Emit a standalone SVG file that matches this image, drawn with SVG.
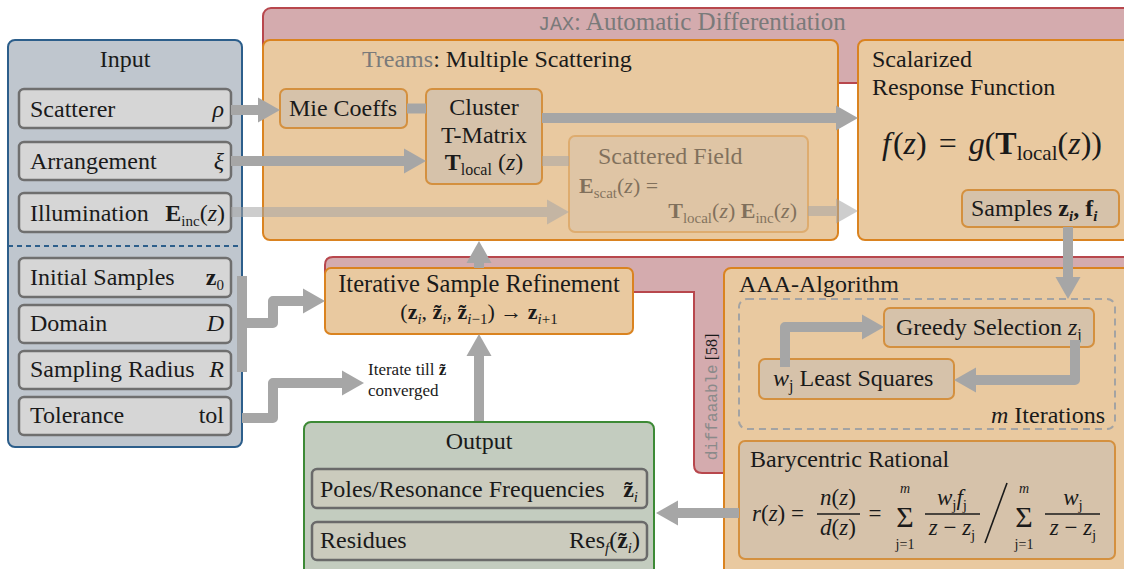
<svg xmlns="http://www.w3.org/2000/svg" width="1124" height="569" viewBox="0 0 1124 569" font-family="'Liberation Serif', 'Times New Roman', 'DejaVu Serif', serif">
<defs>
<marker id="ah" markerUnits="userSpaceOnUse" markerWidth="24" markerHeight="26" refX="0" refY="12.5" orient="auto" overflow="visible">
<path d="M0,0 L22,12.5 L0,25 Z" fill="#a6a6a6"/>
</marker>
<style>
text{font-family:'Liberation Serif','Times New Roman','DejaVu Serif',serif;fill:#1a1a1a;}
.t{font-size:24px}
.it{font-style:italic}
.b{font-weight:bold}
.mono{font-family:'Liberation Mono','DejaVu Sans Mono',monospace}
.gray{fill:#7a7a7a}
.jax{fill:#d4abae;stroke:#b8474d;stroke-width:2}
.orange{fill:#e9c9a0;stroke:#da8320;stroke-width:2}
.tan{fill:#d6c2aa;stroke:#d4903f;stroke-width:2}
.item{fill:#d6d6d6;stroke:#6f6f6f;stroke-width:2.5}
.oitem{fill:#cbcbbd;stroke:#6a6a6a;stroke-width:2.5}
.conn{fill:none;stroke:#a6a6a6;stroke-width:10;stroke-linejoin:round}
.head{marker-end:url(#ah)}
.fl{stroke:#1a1a1a;stroke-width:1.6}
</style>
</defs>

<g id="jax-top">
<rect class="jax" x="263" y="8" width="880" height="75" rx="8"/>
<text x="538" y="30" class="gray" font-size="25"><tspan class="mono" font-size="20">JAX</tspan>: Automatic Differentiation</text>
</g>

<g id="jax-bottom">
<path class="jax" d="M325,265 Q325,257 333,257 H1140 V300 H724 V473 H702 Q694,473 694,465 V292 H325 Z"/>
<text transform="translate(717,397) rotate(-90)" text-anchor="middle" font-size="16" fill="#8a8a8a"><tspan class="mono" fill="#8a8a8a">diffaaable</tspan> [58]</text>
</g>

<g id="input">
<rect x="8" y="40" width="234" height="407" rx="7" fill="#bfc6ce" stroke="#2c5e8b" stroke-width="2"/>
<text x="125" y="67" text-anchor="middle" class="t">Input</text>
<line x1="8" y1="246" x2="242" y2="246" stroke="#2c5e8b" stroke-width="2" stroke-dasharray="5 4"/>
</g>
<g id="in-scatterer">
<rect class="item" x="19" y="89" width="212" height="39" rx="5"/>
<text x="30" y="117" class="t">Scatterer</text>
<text x="224" y="117" class="t it" text-anchor="end">ρ</text>
</g>
<g id="in-arrangement">
<rect class="item" x="19" y="142" width="212" height="38" rx="5"/>
<text x="30" y="169" class="t">Arrangement</text>
<text x="224" y="169" class="t it" text-anchor="end">ξ</text>
</g>
<g id="in-illumination">
<rect class="item" x="19" y="193" width="212" height="39" rx="5"/>
<text x="30" y="221" class="t">Illumination</text>
<text x="225" y="221" class="t" text-anchor="end"><tspan class="b">E</tspan><tspan font-size="15" dy="5">inc</tspan><tspan dy="-5">(</tspan><tspan class="it">z</tspan>)</text>
</g>
<g id="in-initial">
<rect class="item" x="19" y="258" width="212" height="39" rx="5"/>
<text x="30" y="285" class="t">Initial Samples</text>
<text x="224" y="285" class="t" text-anchor="end"><tspan class="b">z</tspan><tspan font-size="15" dy="5">0</tspan></text>
</g>
<g id="in-domain">
<rect class="item" x="19" y="305" width="212" height="38" rx="5"/>
<text x="30" y="331" class="t">Domain</text>
<text x="224" y="331" class="t it" text-anchor="end">D</text>
</g>
<g id="in-radius">
<rect class="item" x="19" y="351" width="212" height="38" rx="5"/>
<text x="30" y="377" class="t">Sampling Radius</text>
<text x="224" y="377" class="t it" text-anchor="end">R</text>
</g>
<g id="in-tolerance">
<rect class="item" x="19" y="397" width="212" height="38" rx="5"/>
<text x="30" y="423" class="t">Tolerance</text>
<text x="224" y="423" class="t" text-anchor="end">tol</text>
</g>

<g id="treams">
<rect class="orange" x="263" y="40" width="575" height="200" rx="7"/>
<text x="362" y="67" class="t"><tspan class="gray">Treams</tspan>: Multiple Scattering</text>
</g>
<g id="mie">
<rect class="tan" x="280" y="89" width="127" height="39" rx="6"/>
<text x="343" y="116" class="t" text-anchor="middle">Mie Coeffs</text>
</g>
<g id="cluster">
<rect class="tan" x="426" y="89" width="116" height="95" rx="6"/>
<text x="484" y="115" class="t" text-anchor="middle">Cluster</text>
<text x="484" y="143" class="t" text-anchor="middle">T-Matrix</text>
<text x="484" y="170" class="t" text-anchor="middle"><tspan class="b">T</tspan><tspan font-size="16" dy="5">local</tspan><tspan dy="-5"> (</tspan><tspan class="it">z</tspan>)</text>
</g>
<g id="scattered" opacity="0.5">
<rect class="tan" x="569" y="136" width="239" height="96" rx="6"/>
<text x="598" y="164" class="t">Scattered Field</text>
<text x="579" y="193" font-size="22"><tspan class="b">E</tspan><tspan font-size="15" dy="5">scat</tspan><tspan dy="-5">(</tspan><tspan class="it">z</tspan>) =</text>
<text x="797" y="218" font-size="22" text-anchor="end"><tspan class="b">T</tspan><tspan font-size="15" dy="5">local</tspan><tspan dy="-5">(</tspan><tspan class="it">z</tspan>) <tspan class="b">E</tspan><tspan font-size="15" dy="5">inc</tspan><tspan dy="-5">(</tspan><tspan class="it">z</tspan>)</text>
</g>

<g id="scalarized">
<rect class="orange" x="858" y="40" width="280" height="200" rx="7"/>
<text x="872" y="67" class="t">Scalarized</text>
<text x="872" y="95" class="t">Response Function</text>
<text x="882" y="154" font-size="32"><tspan class="it">f</tspan><tspan dx="2">(</tspan><tspan class="it">z</tspan>)<tspan dx="12">=</tspan><tspan dx="12" class="it">g</tspan>(<tspan class="b">T</tspan><tspan font-size="21" dy="6">local</tspan><tspan dy="-6">(</tspan><tspan class="it">z</tspan>))</text>
</g>
<g id="samples">
<rect class="tan" x="962" y="190" width="157" height="37" rx="6"/>
<text x="971" y="216" class="t">Samples <tspan class="b">z</tspan><tspan font-size="15" dy="5" class="it b">i</tspan><tspan dy="-5" class="b">, f</tspan><tspan font-size="15" dy="5" class="it b">i</tspan></text>
</g>

<g id="isr">
<rect class="orange" x="325" y="268" width="308" height="66" rx="6"/>
<text x="479" y="292" font-size="24.5" text-anchor="middle">Iterative Sample Refinement</text>
<text x="479" y="319" font-size="22" text-anchor="middle">(<tspan class="b">z</tspan><tspan font-size="15" dy="5" class="it">i</tspan><tspan dy="-5">, </tspan><tspan class="b">z&#771;</tspan><tspan font-size="15" dy="5" class="it">i</tspan><tspan dy="-5">, </tspan><tspan class="b">z&#771;</tspan><tspan font-size="15" dy="5"><tspan class="it">i</tspan>−1</tspan><tspan dy="-5">) → </tspan><tspan class="b">z</tspan><tspan font-size="15" dy="5"><tspan class="it">i</tspan>+1</tspan></text>
</g>

<g id="iterate-label">
<text x="368" y="375" font-size="17">Iterate till <tspan class="b">z&#771;</tspan></text>
<text x="368" y="396" font-size="17">converged</text>
</g>

<g id="aaa">
<rect class="orange" x="724" y="268" width="420" height="320" rx="7"/>
<text x="739" y="292" class="t">AAA-Algorithm</text>
<rect x="739" y="299" width="376" height="130" rx="8" fill="none" stroke="#a3a3a3" stroke-width="2" stroke-dasharray="7 5"/>
<text x="1105" y="423" class="t" text-anchor="end"><tspan class="it">m</tspan> Iterations</text>
</g>
<g id="greedy">
<rect class="tan" x="884" y="308" width="210" height="39" rx="6"/>
<text x="896" y="335" class="t">Greedy Selection <tspan class="it">z</tspan><tspan font-size="16" dy="5">j</tspan></text>
</g>
<g id="leastsq">
<rect class="tan" x="759" y="359" width="195" height="40" rx="6"/>
<text x="773" y="386" class="t"><tspan class="it">w</tspan><tspan font-size="16" dy="5">j</tspan><tspan dy="-5"> Least Squares</tspan></text>
</g>
<g id="barycentric">
<rect class="tan" x="739" y="441" width="376" height="118" rx="6"/>
<text x="750" y="467" class="t">Barycentric Rational</text>
<text x="752" y="521" font-size="23"><tspan class="it">r</tspan>(<tspan class="it">z</tspan>) =</text>
<text x="838" y="505" font-size="23" text-anchor="middle"><tspan class="it">n</tspan>(<tspan class="it">z</tspan>)</text>
<line class="fl" x1="817" y1="514" x2="860" y2="514"/>
<text x="838" y="535" font-size="23" text-anchor="middle"><tspan class="it">d</tspan>(<tspan class="it">z</tspan>)</text>
<text x="875" y="521" font-size="23" text-anchor="middle">=</text>
<text x="905" y="527" font-size="30" text-anchor="middle">Σ</text>
<text x="905" y="493" font-size="14" text-anchor="middle" class="it">m</text>
<text x="905" y="549" font-size="14" text-anchor="middle">j=1</text>
<text x="952" y="505" font-size="23" text-anchor="middle"><tspan class="it">w</tspan><tspan font-size="15" dy="5">j</tspan><tspan dy="-5" class="it">f</tspan><tspan font-size="15" dy="5">j</tspan></text>
<line class="fl" x1="925" y1="514" x2="980" y2="514"/>
<text x="952" y="535" font-size="23" text-anchor="middle"><tspan class="it">z</tspan> − <tspan class="it">z</tspan><tspan font-size="15" dy="5">j</tspan></text>
<line class="fl" x1="1007" y1="483" x2="985" y2="543"/>
<text x="1024" y="527" font-size="30" text-anchor="middle">Σ</text>
<text x="1024" y="493" font-size="14" text-anchor="middle" class="it">m</text>
<text x="1024" y="549" font-size="14" text-anchor="middle">j=1</text>
<text x="1073" y="505" font-size="23" text-anchor="middle"><tspan class="it">w</tspan><tspan font-size="15" dy="5">j</tspan></text>
<line class="fl" x1="1045" y1="514" x2="1100" y2="514"/>
<text x="1073" y="535" font-size="23" text-anchor="middle"><tspan class="it">z</tspan> − <tspan class="it">z</tspan><tspan font-size="15" dy="5">j</tspan></text>
</g>

<g id="output">
<rect x="304" y="422" width="350" height="160" rx="7" fill="#c3ccbf" stroke="#3d8a36" stroke-width="2"/>
<text x="479" y="449" class="t" text-anchor="middle">Output</text>
</g>
<g id="poles">
<rect class="oitem" x="312" y="469" width="335" height="39" rx="5"/>
<text x="320" y="497" class="t">Poles/Resonance Frequencies</text>
<text x="638" y="497" class="t" text-anchor="end"><tspan class="b">z&#771;</tspan><tspan font-size="15" dy="5" class="it">i</tspan></text>
</g>
<g id="residues">
<rect class="oitem" x="312" y="522" width="335" height="38" rx="5"/>
<text x="320" y="548" class="t">Residues</text>
<text x="640" y="548" class="t" text-anchor="end">Res<tspan font-size="15" dy="5" class="it">f</tspan><tspan dy="-5">(</tspan><tspan class="b">z&#771;</tspan><tspan font-size="15" dy="5" class="it">i</tspan><tspan dy="-5">)</tspan></text>
</g>

<g id="connectors">
<path class="conn head" d="M231,110 H258"/>
<path class="conn head" d="M231,161 H404"/>
<g opacity="0.55">
<path class="conn head" d="M231,212 H547"/>
<path class="conn" d="M542,161 H569"/>
<path class="conn head" d="M808,211 H836"/>
</g>
<path class="conn" stroke-width="9" d="M407,108.5 H426"/>
<path class="conn head" d="M542,118 H836"/>
<path class="conn head" d="M1068,227 V277"/>
<path class="conn head" d="M1075,340 V380 H976"/>
<path class="conn head" d="M785,367 V327 H862"/>
<path class="conn head" d="M739,513 H678"/>
<path class="conn head" d="M479,421 V356"/>
<path class="conn head" d="M479,268 V263"/>
<path class="conn" d="M242,276 V372"/>
<path class="conn head" d="M242,323 H273 V301 H303"/>
<path class="conn head" d="M242,418 H273 V383 H342"/>
</g>
</svg>
